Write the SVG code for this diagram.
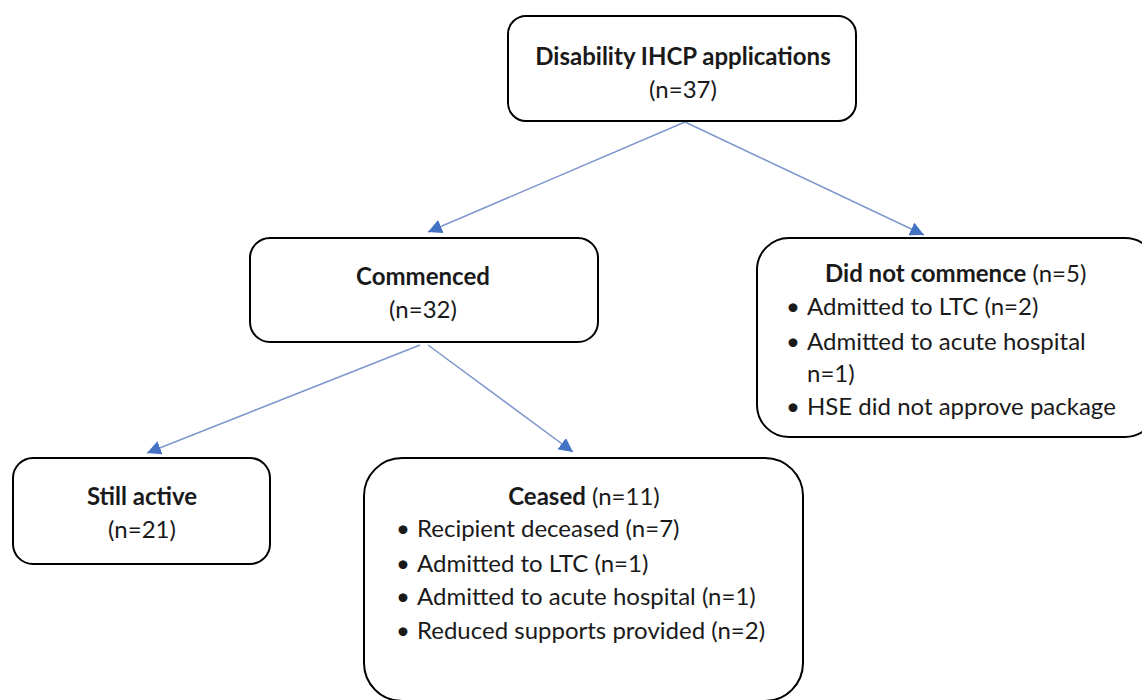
<svg xmlns="http://www.w3.org/2000/svg" width="1142" height="700" viewBox="0 0 1142 700">
  <style>
    .box { fill: #ffffff; stroke: #000000; stroke-width: 2; }
    .t { font-family: Lato, "Liberation Sans", sans-serif; font-size: 24px; fill: #1a1a1a; }
    .b { font-weight: bold; }
    .mid { text-anchor: middle; }
    .link { stroke: #7f97cc; stroke-width: 1.5; fill: none; marker-end: url(#arrow); }
  </style>
  <defs>
    <marker id="arrow" markerUnits="userSpaceOnUse" markerWidth="16" markerHeight="14" refX="14" refY="7" orient="auto">
      <path d="M0,0 L14,7 L0,14 Z" fill="#4472c4"/>
    </marker>
  </defs>
  <rect width="1142" height="700" fill="#ffffff"/>

  <!-- connectors -->
  <g id="connectors">
    <line class="link" x1="685" y1="122" x2="428" y2="232"/>
    <line class="link" x1="685" y1="122" x2="924" y2="235"/>
    <line class="link" x1="420" y1="345" x2="147" y2="453"/>
    <line class="link" x1="428" y1="345" x2="573" y2="452"/>
  </g>

  <g id="applications">
    <rect class="box" x="508" y="16" width="348" height="105" rx="18"/>
    <text class="t b mid" x="683" y="65">Disability IHCP applications</text>
    <text class="t mid" x="683" y="98">(n=37)</text>
  </g>

  <g id="commenced">
    <rect class="box" x="250" y="238" width="348" height="104" rx="20"/>
    <text class="t b mid" x="423" y="285">Commenced</text>
    <text class="t mid" x="423" y="318">(n=32)</text>
  </g>

  <g id="did-not-commence">
    <rect class="box" x="757" y="238" width="400" height="199" rx="32"/>
    <text class="t" x="825" y="282"><tspan class="b">Did not commence</tspan> (n=5)</text>
    <text class="t" x="786" y="315">•</text>
    <text class="t" x="807" y="315">Admitted to LTC (n=2)</text>
    <text class="t" x="786" y="350">•</text>
    <text class="t" x="807" y="350">Admitted to acute hospital</text>
    <text class="t" x="807" y="382">n=1)</text>
    <text class="t" x="786" y="415">•</text>
    <text class="t" x="807" y="415">HSE did not approve package</text>
  </g>

  <g id="still-active">
    <rect class="box" x="13" y="458" width="257" height="106" rx="20"/>
    <text class="t b mid" x="142" y="505">Still active</text>
    <text class="t mid" x="142" y="538">(n=21)</text>
  </g>

  <g id="ceased">
    <rect class="box" x="364" y="458" width="439" height="243" rx="38"/>
    <text class="t mid" x="584" y="505"><tspan class="b">Ceased</tspan> (n=11)</text>
    <text class="t" x="396" y="537">•</text>
    <text class="t" x="417" y="537">Recipient deceased (n=7)</text>
    <text class="t" x="396" y="572">•</text>
    <text class="t" x="417" y="572">Admitted to LTC (n=1)</text>
    <text class="t" x="396" y="605">•</text>
    <text class="t" x="417" y="605">Admitted to acute hospital (n=1)</text>
    <text class="t" x="396" y="639">•</text>
    <text class="t" x="417" y="639">Reduced supports provided (n=2)</text>
  </g>
</svg>
